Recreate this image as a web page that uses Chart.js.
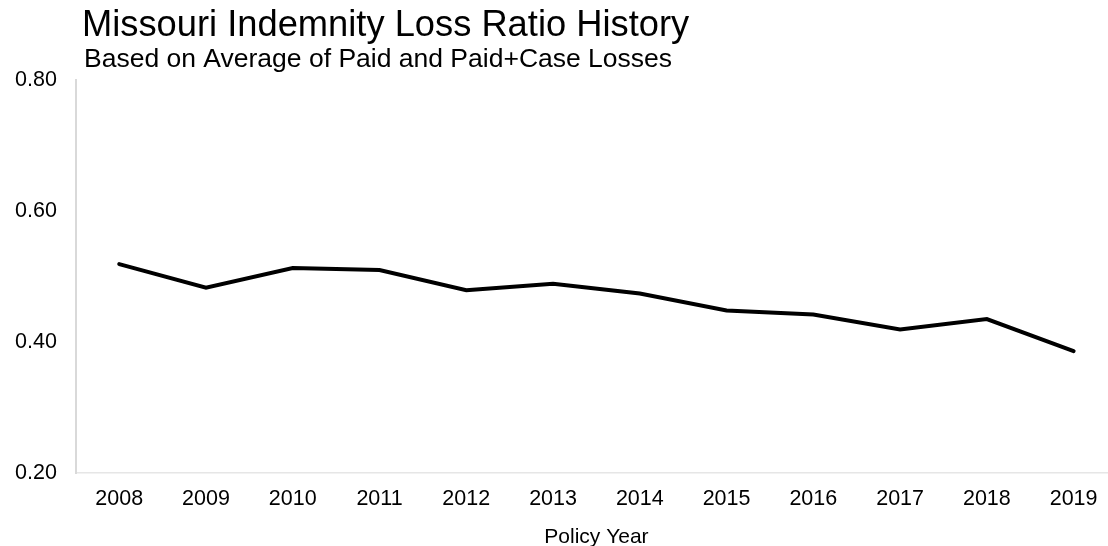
<!DOCTYPE html>
<html>
<head>
<meta charset="utf-8">
<script src="https://cdn.jsdelivr.net/npm/chart.js@4/dist/chart.umd.min.js"></script>
<style>
  html, body { margin: 0; padding: 0; background: #fff; overflow: hidden; }
  #wrap { width: 1118px; height: 546px; }
</style>
</head>
<body>
<div id="wrap"><canvas id="lossChart"></canvas></div>
<script>
const years = ['2008', '2009', '2010', '2011', '2012', '2013', '2014', '2015', '2016', '2017', '2018', '2019'];
const lossRatio = [0.519, 0.483, 0.513, 0.510, 0.479, 0.489, 0.474, 0.448, 0.442, 0.419, 0.435, 0.386];
const yTicks = [0.20, 0.40, 0.60, 0.80];

const chartTitle = 'Missouri Indemnity Loss Ratio History';
const chartSubtitle = 'Based on Average of Paid and Paid+Case Losses';
const FONT = '"Liberation Sans", Arial, sans-serif';

// title + subtitle sit above the plot, left aligned
const headerText = {
  id: 'headerText',
  afterDraw(chart) {
    const ctx = chart.ctx;
    ctx.save();
    ctx.fillStyle = '#000';
    ctx.textAlign = 'left';
    ctx.textBaseline = 'alphabetic';
    ctx.font = '36.3px ' + FONT;
    ctx.fillText(chartTitle, 82, 36);
    ctx.font = '26.5px ' + FONT;
    ctx.fillText(chartSubtitle, 84, 67);
    ctx.restore();
  }
};

const ctx = document.getElementById('lossChart').getContext('2d');
const lossChart = new Chart(ctx, {
  type: 'line',
  data: {
    labels: years,
    datasets: [{
      label: 'Loss Ratio',
      data: lossRatio,
      borderColor: '#000',
      borderWidth: 4,
      borderCapStyle: 'round',
      borderJoinStyle: 'miter',
      pointRadius: 0,
      tension: 0,
      fill: false,
    }]
  },
  options: {
    responsive: true,
    maintainAspectRatio: false,
    animation: false,
    layout: { padding: { top: 80, left: -4, right: 1, bottom: -4 } },
    plugins: {
      legend: { display: false },
      tooltip: { enabled: false },
    },
    scales: {
      x: {
        offset: true,
        grid: { display: false, drawTicks: false },
        border: { display: true, color: '#e6e6e6', width: 1.5 },
        ticks: { color: '#000', font: { family: FONT, size: 21.5 }, padding: 13, maxRotation: 0 },
        title: { display: true, text: 'Policy Year', color: '#000', font: { family: FONT, size: 21 }, padding: { top: 0, bottom: 0 } },
      },
      y: {
        min: 0.2,
        max: 0.8,
        afterBuildTicks(scale) {
          scale.ticks = yTicks.map(v => ({ value: v }));
        },
        grid: { display: false, drawTicks: false },
        border: { display: true, color: '#d9d9d9', width: 2 },
        ticks: {
          color: '#000',
          font: { family: FONT, size: 21.5 },
          padding: 19,
          callback: v => Number(v).toFixed(2),
        },
      }
    }
  },
  plugins: [headerText]
});
</script>
</body>
</html>
